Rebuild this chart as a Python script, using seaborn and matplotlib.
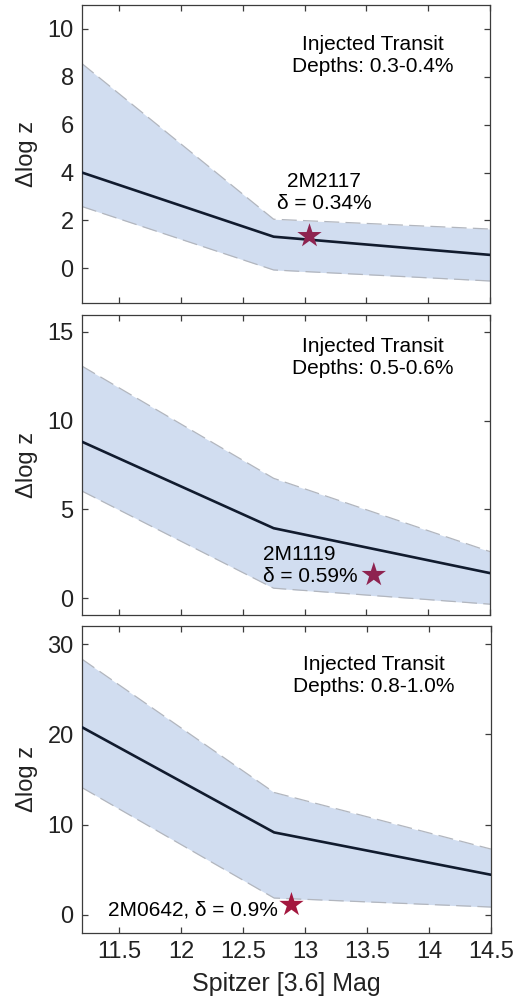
import matplotlib
matplotlib.use("Agg")
import matplotlib.pyplot as plt
import seaborn as sns
import pandas as pd
import numpy as np

sns.set_theme(style="white")
plt.rcParams['font.family'] = ['Liberation Sans', 'DejaVu Sans']

# ---- data ----
mag = [11.2, 12.75, 14.5]

mid_1 = [4.0, 1.32, 0.56]
up_1 = [8.55, 2.05, 1.64]
lo_1 = [2.58, -0.07, -0.53]

mid_2 = [8.81, 3.94, 1.41]
up_2 = [13.07, 6.75, 2.62]
lo_2 = [6.03, 0.56, -0.34]

mid_3 = [20.8, 9.13, 4.43]
up_3 = [28.35, 13.56, 7.28]
lo_3 = [14.1, 1.85, 0.85]

depth_labels = ["Injected Transit\nDepths: 0.3-0.4%",
                "Injected Transit\nDepths: 0.5-0.6%",
                "Injected Transit\nDepths: 0.8-1.0%"]
star_x = [13.04, 13.56, 12.89]
star_y = [1.35, 1.31, 1.1]
star_labels = ["2M2117\nδ = 0.34%", "2M1119\nδ = 0.59%", "2M0642, δ = 0.9%"]
star_colors = ["#8E2350", "#8E2350", "#A3173E"]

ylims = [(-1.45, 11.0), (-0.95, 15.95), (-2.03, 32.03)]
yticks = [[0, 2, 4, 6, 8, 10], [0, 5, 10, 15], [0, 10, 20, 30]]
xticks = [11.5, 12, 12.5, 13, 13.5, 14, 14.5]
xtick_labels = ["11.5", "12", "12.5", "13", "13.5", "14", "14.5"]

mids = [mid_1, mid_2, mid_3]
ups = [up_1, up_2, up_3]
los = [lo_1, lo_2, lo_3]

W, H = 528, 1006
fig = plt.figure(figsize=(W / 100, H / 100), dpi=100)

rects = [(82, 5, 490, 303), (82, 315, 490, 615), (82, 626, 491, 933)]
fill_c = "#D1DDF0"
edge_c = "#B2B6BE"
line_c = "#111B2E"
frame_c = "#3C3C3C"
text_c = "#222222"

for i in range(3):
    l, t, r, b = rects[i]
    ax = fig.add_axes([l / W, 1 - b / H, (r - l) / W, (b - t) / H])
    df = pd.DataFrame({"mag": mag, "mid": mids[i], "up": ups[i], "lo": los[i]})
    ax.fill_between(df["mag"], df["lo"], df["up"], color=fill_c, lw=0, zorder=1)
    sns.lineplot(data=df, x="mag", y="up", ax=ax, color=edge_c, lw=0.9,
                 zorder=2, linestyle=(0, (12, 5)))
    sns.lineplot(data=df, x="mag", y="lo", ax=ax, color=edge_c, lw=0.9,
                 zorder=2, linestyle=(0, (12, 5)))
    sns.lineplot(data=df, x="mag", y="mid", ax=ax, color=line_c, lw=1.9, zorder=3)
    ax.scatter([star_x[i]], [star_y[i]], marker="*", s=340, color=star_colors[i],
               edgecolor="none", zorder=4)

    ax.set_xlim(11.2, 14.5)
    ax.set_ylim(*ylims[i])
    ax.set_yticks(yticks[i])
    ax.set_yticklabels([str(v) for v in yticks[i]])
    ax.set_xticks(xticks)
    if i == 2:
        ax.set_xticklabels(xtick_labels)
        ax.set_xlabel("Spitzer [3.6] Mag", fontsize=18, color=text_c, labelpad=6)
    else:
        ax.set_xticklabels([])
        ax.set_xlabel("")
    ax.set_ylabel("Δlog z", fontsize=17, color=text_c, labelpad=7)
    ax.tick_params(direction="in", length=4, width=0.9, color=frame_c,
                   labelsize=17, labelcolor=text_c, top=True, right=True,
                   bottom=True, left=True, pad=6)
    for s in ax.spines.values():
        s.set_color(frame_c)
        s.set_linewidth(0.9)
        s.set_visible(True)

    # depth label
    ax.text(0.713, [0.83, 0.858, 0.839][i], depth_labels[i], transform=ax.transAxes,
            ha="center", va="center", fontsize=15, color="black", linespacing=1.2)

# star annotations (data coords)
axes = fig.axes
axes[0].text(13.16, 2.3, star_labels[0], ha="center", va="bottom", fontsize=15,
             color="black", linespacing=1.2)
axes[1].text(12.66, 1.84, star_labels[1], ha="left", va="center", fontsize=15,
             color="black", linespacing=1.2)
axes[2].text(12.78, 0.55, star_labels[2], ha="right", va="center", fontsize=15,
             color="black")

fig.savefig("out.png", dpi=100)
